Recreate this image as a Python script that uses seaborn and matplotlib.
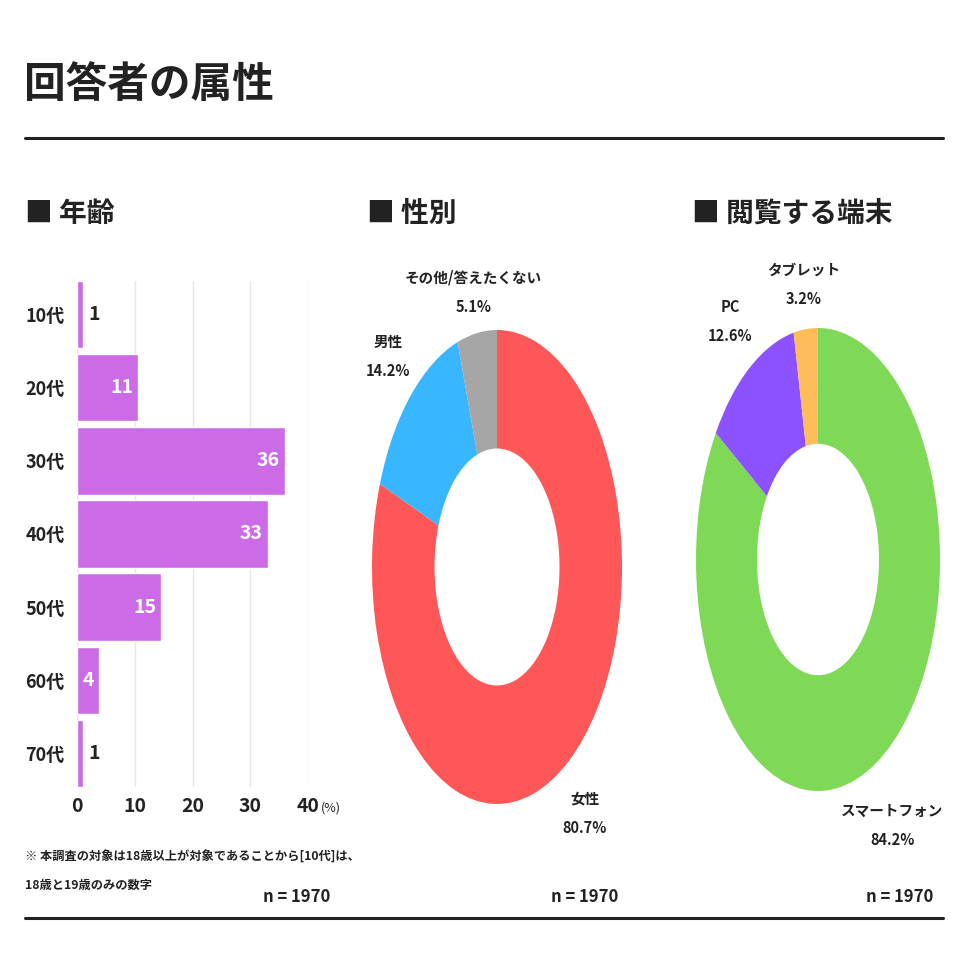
import matplotlib
matplotlib.use('Agg')
import matplotlib.pyplot as plt
import seaborn as sns
import pandas as pd

# 年齢 (%)
age_labels = ['10代', '20代', '30代', '40代', '50代', '60代', '70代']
age_values = [1.0, 10.6, 36.0, 33.0, 14.6, 3.8, 1.0]
age_ticks = [0, 10, 20, 30, 40]

# 性別 (%)
gender_labels = ['女性', '男性', 'その他/答えたくない']
gender_values = [80.7, 14.2, 5.1]
gender_colors = ['#FF5757', '#38B6FF', '#A6A6A6']

# 閲覧する端末 (%)
device_labels = ['スマートフォン', 'PC', 'タブレット']
device_values = [84.2, 12.6, 3.2]
device_colors = ['#7ED957', '#8C52FF', '#FFBD59']

n_text = 'n = 1970'
bar_color = '#CB6CE6'
ink = '#222222'

sns.set_style('white')
plt.rcParams['font.family'] = ['Noto Sans CJK JP', 'DejaVu Sans']
plt.rcParams['font.weight'] = 'bold'

W = 968


def fx(px):
    return px / W


def fy(py):
    return 1 - py / W


fig = plt.figure(figsize=(9.68, 9.68), dpi=100)
fig.patch.set_facecolor('white')

# タイトルと罫線
fig.text(fx(24), fy(85), '回答者の属性', fontsize=30, fontweight='bold',
         color=ink, ha='left', va='center')
fig.add_artist(plt.Line2D([fx(25), fx(943)], [fy(138), fy(138)], color=ink, lw=2.2))
fig.add_artist(plt.Line2D([fx(25), fx(943)], [fy(918), fy(918)], color=ink, lw=2.2))

# 見出し
for x, t in [(25, '■ 年齢'), (367, '■ 性別'), (692, '■ 閲覧する端末')]:
    fig.text(fx(x), fy(214), t, fontsize=20, fontweight='bold', color=ink,
             ha='left', va='center')

# 年齢の棒グラフ
df_age = pd.DataFrame({'age': age_labels, 'value': age_values})
ax = fig.add_axes([fx(77), fy(787), (308 - 77) / W, (787 - 281) / W])
sns.barplot(data=df_age, x='value', y='age', orient='h', color=bar_color,
            saturation=1, width=0.92, ax=ax)
ax.set_xlim(0, 40)
ax.set_ylim(len(age_labels) - 0.54, -0.46)
ax.set_xticks(age_ticks)
ax.set_xticklabels([str(t) for t in age_ticks], fontsize=14, fontweight='bold', color=ink)
ax.set_yticks(range(len(age_labels)))
ax.set_yticklabels(age_labels, fontsize=13, fontweight='bold', color=ink)
ax.tick_params(axis='x', length=0, pad=7)
ax.tick_params(axis='y', length=0, pad=9)
ax.set_xlabel('')
ax.set_ylabel('')
ax.xaxis.grid(True, color='#E6E6E6', lw=1)
ax.yaxis.grid(False)
ax.set_axisbelow(True)
for s in ax.spines.values():
    s.set_visible(False)

for i, v in enumerate(age_values):
    lab = f'{v:.0f}'
    if v < 3:
        ax.text(v + 0.9, i, lab, ha='left', va='center', fontsize=14,
                fontweight='bold', color=ink)
    else:
        ax.text(v - 0.9, i, lab, ha='right', va='center', fontsize=14,
                fontweight='bold', color='white')

fig.text(fx(331), fy(808), '(%)', fontsize=9, color=ink, ha='center', va='center',
         fontweight='normal')

fig.text(fx(25), fy(857), '※ 本調査の対象は18歳以上が対象であることから[10代]は、',
         fontsize=8.8, fontweight='bold', color=ink, ha='left', va='center')
fig.text(fx(25), fy(885), '18歳と19歳のみの数字',
         fontsize=8.8, fontweight='bold', color=ink, ha='left', va='center')


def donut(rect, values, colors, labels, label_pos):
    axd = fig.add_axes(rect)
    axd.pie(values, colors=colors, startangle=90, counterclock=False,
            radius=1, wedgeprops=dict(width=0.5, linewidth=0))
    axd.set_aspect('auto')
    axd.set_xlim(-1, 1)
    axd.set_ylim(-1, 1)
    axd.axis('off')
    for lab, v, (x, y) in zip(labels, values, label_pos):
        axd.text(x, y, f'{lab}\n{v}%', ha='center', va='center', fontsize=10.5,
                 fontweight='bold', color=ink, linespacing=2.0, clip_on=False)
    return axd


donut([fx(372), fy(804), 250 / W, 474 / W], gender_values, gender_colors,
      gender_labels, [(0.70, -1.04), (-0.87, 0.89), (-0.19, 1.16)])
donut([fx(696), fy(791), 244 / W, 463 / W], device_values, device_colors,
      device_labels, [(0.61, -1.15), (-0.72, 1.03), (-0.12, 1.19)])

for x in [297, 585, 900]:
    fig.text(fx(x), fy(897), n_text, fontsize=12, fontweight='bold', color=ink,
             ha='center', va='center')

fig.savefig('out.png', dpi=100, facecolor='white')
